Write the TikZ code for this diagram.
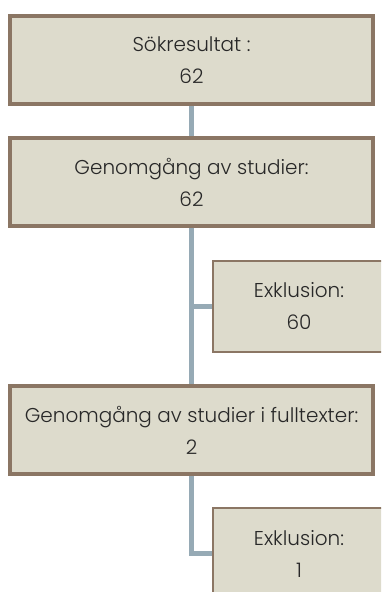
\documentclass[tikz,border=0pt]{standalone}
\usepackage{fontspec}
\setmainfont{Poppins}[UprightFont=* Light]
\definecolor{boxfill}{RGB}{221,219,204}
\definecolor{boxline}{RGB}{139,118,100}
\definecolor{connline}{RGB}{150,170,181}
\definecolor{labeltext}{RGB}{40,40,40}
\tikzset{
  stage/.style={draw=boxline,fill=boxfill,line width=4pt,minimum width=363pt,minimum height=88pt,
    align=center,text=labeltext,font=\fontsize{20}{32}\selectfont},
  exclbox/.style={draw=boxline,fill=boxfill,line width=2pt,minimum width=172pt,minimum height=91pt,
    align=center,text=labeltext,font=\fontsize{20}{32}\selectfont},
  conn/.style={draw=connline,line width=5pt}
}
\begin{document}
\begin{tikzpicture}[x=1pt,y=-1pt]
\clip (0,0) rectangle (381,592);
\node[stage] (sok) at (191.5,60) {Sökresultat :\\62};
\node[stage] (gen) at (191.5,182) {Genomgång av studier:\\62};
\node[exclbox] (ex1) at (299,306.5) {Exklusion:\\60};
\node[stage] (full) at (191.5,430) {Genomgång av studier i fulltexter:\\2};
\node[exclbox] (ex2) at (299,553.5) {Exklusion:\\1};
% connectors
\draw[conn] (sok.south) -- (gen.north);
\draw[conn] (gen.south) -- (full.north);
\draw[conn] (gen.south) |- (ex1.west);
\draw[conn] (full.south) |- (ex2.west);
\end{tikzpicture}
\end{document}
